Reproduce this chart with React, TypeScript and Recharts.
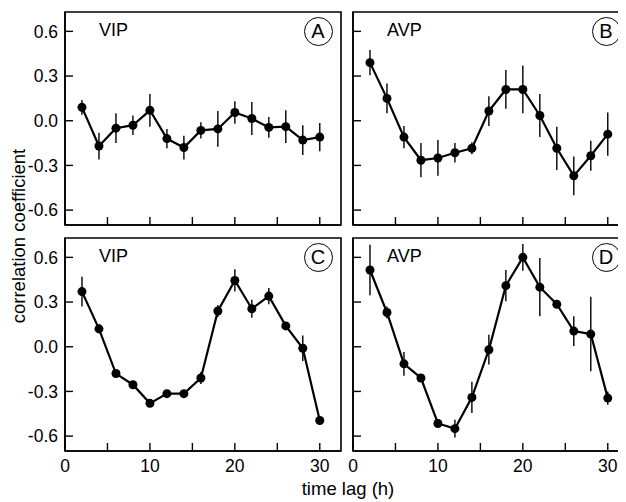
import React from "react";
import { LineChart, Line, XAxis, YAxis, ErrorBar, ReferenceArea } from "recharts";

const lags = [2, 4, 6, 8, 10, 12, 14, 16, 18, 20, 22, 24, 26, 28, 30];
const xTicks = [0, 5, 10, 15, 20, 25, 30];
const yTicks = [-0.6, -0.3, 0, 0.3, 0.6];

const vipTop = [0.09, -0.17, -0.05, -0.03, 0.07, -0.12, -0.18, -0.065, -0.055, 0.055, 0.015, -0.045, -0.04, -0.13, -0.11];
const vipTopErr = [0.05, 0.09, 0.1, 0.065, 0.11, 0.065, 0.08, 0.055, 0.12, 0.075, 0.11, 0.07, 0.11, 0.1, 0.095];
const avpTop = [0.39, 0.15, -0.11, -0.265, -0.25, -0.215, -0.185, 0.065, 0.21, 0.21, 0.035, -0.185, -0.37, -0.235, -0.09];
const avpTopErr = [0.085, 0.1, 0.075, 0.115, 0.12, 0.065, 0.04, 0.1, 0.13, 0.16, 0.145, 0.145, 0.13, 0.1, 0.145];
const vipBottom = [0.37, 0.12, -0.18, -0.255, -0.38, -0.315, -0.315, -0.21, 0.24, 0.445, 0.255, 0.34, 0.14, -0.01, -0.495];
const vipBottomErr = [0.1, 0.03, 0.02, 0.02, 0.02, 0.02, 0.02, 0.04, 0.04, 0.075, 0.06, 0.055, 0.02, 0.085, 0.02];
const avpBottom = [0.515, 0.23, -0.115, -0.21, -0.515, -0.55, -0.34, -0.02, 0.41, 0.6, 0.4, 0.285, 0.105, 0.085, -0.345];
const avpBottomErr = [0.17, 0.04, 0.08, 0.02, 0.02, 0.06, 0.105, 0.1, 0.105, 0.09, 0.195, 0.02, 0.1, 0.25, 0.045];

const FONT = "'Liberation Sans', Arial, Helvetica, sans-serif";
const X_DOMAIN: [number, number] = [0, 32.5];
const Y_DOMAIN: [number, number] = [-0.7, 0.73];
const PLOT_W = 276;
const PLOT_H = 213;
const Y_AXIS_W = 60;
const X_AXIS_H = 30;
const M_TOP = 2;
const M_RIGHT = 4;
// page offset (body margin)
const OFF = 8;

type PanelProps = {
  values: number[];
  errors: number[];
  left: number; // plot area left, page coords
  top: number; // plot area top, page coords
  name: string;
  letter: string;
  showXLabels: boolean;
  showYLabels: boolean;
};

function Panel({ values, errors, left, top, name, letter, showXLabels, showYLabels }: PanelProps) {
  const data = lags.map((lag, i) => ({ lag, r: values[i], err: errors[i] }));
  return (
    <>
      <div style={{ position: "absolute", left: left - OFF - Y_AXIS_W, top: top - OFF - M_TOP }}>
        <LineChart
          width={Y_AXIS_W + PLOT_W + M_RIGHT}
          height={M_TOP + PLOT_H + X_AXIS_H}
          data={data}
          margin={{ top: M_TOP, right: M_RIGHT, bottom: 0, left: 0 }}
        >
          <XAxis
            dataKey="lag"
            type="number"
            domain={X_DOMAIN}
            ticks={xTicks}
            allowDataOverflow
            height={X_AXIS_H}
            tickSize={-8}
            tickMargin={17}
            axisLine={{ stroke: "#000", strokeWidth: 1.6 }}
            tickLine={{ stroke: "#000", strokeWidth: 1.4 }}
            tick={{ fill: "#000", fontSize: 17.5, fontFamily: FONT }}
            tickFormatter={(v: number) => (showXLabels && v % 10 === 0 ? String(v) : "")}
          />
          <YAxis
            type="number"
            domain={Y_DOMAIN}
            ticks={yTicks}
            allowDataOverflow
            width={Y_AXIS_W}
            tickSize={-8}
            tickMargin={15}
            axisLine={{ stroke: "#000", strokeWidth: 1.6 }}
            tickLine={{ stroke: "#000", strokeWidth: 1.4 }}
            tick={{ fill: "#000", fontSize: 17.5, fontFamily: FONT }}
            tickFormatter={(v: number) => (showYLabels ? v.toFixed(1) : "")}
          />
          <ReferenceArea
            x1={X_DOMAIN[0]}
            x2={X_DOMAIN[1]}
            y1={Y_DOMAIN[0]}
            y2={Y_DOMAIN[1]}
            fill="none"
            stroke="#000"
            strokeWidth={1.6}
            ifOverflow="visible"
          />
          <Line
            dataKey="r"
            type="linear"
            stroke="#000"
            strokeWidth={2.2}
            dot={{ r: 4.5, fill: "#000", stroke: "#000", strokeWidth: 0 }}
            activeDot={false}
            isAnimationActive={false}
          >
            <ErrorBar dataKey="err" width={0} stroke="#000" strokeWidth={1.4} direction="y" />
          </Line>
        </LineChart>
      </div>
      <div
        style={{
          position: "absolute",
          left: left - OFF + 34,
          top: top - OFF + 9,
          fontSize: 18,
          lineHeight: 1,
          fontFamily: FONT,
          color: "#000",
        }}
      >
        {name}
      </div>
      <div
        style={{
          position: "absolute",
          left: left - OFF + 253 - 14.5,
          top: top - OFF + 19.5 - 14.5,
          width: 27,
          height: 27,
          border: "1.4px solid #000",
          borderRadius: "50%",
          display: "flex",
          alignItems: "center",
          justifyContent: "center",
          fontSize: 20,
          fontFamily: FONT,
          color: "#000",
        }}
      >
        {letter}
      </div>
    </>
  );
}

export default function App() {
  return (
    <div
      style={{
        position: "relative",
        width: 626 - OFF,
        height: 502 - OFF,
        overflow: "hidden",
        background: "#fff",
        fontFamily: FONT,
      }}
    >
      <Panel values={vipTop} errors={vipTopErr} left={65} top={12} name="VIP" letter="A" showXLabels={false} showYLabels />
      <Panel values={avpTop} errors={avpTopErr} left={353} top={12} name="AVP" letter="B" showXLabels={false} showYLabels={false} />
      <Panel values={vipBottom} errors={vipBottomErr} left={65} top={238} name="VIP" letter="C" showXLabels showYLabels />
      <Panel values={avpBottom} errors={avpBottomErr} left={353} top={238} name="AVP" letter="D" showXLabels showYLabels={false} />
      <div
        style={{
          position: "absolute",
          left: 19 - OFF,
          top: 236 - OFF,
          transform: "translate(-50%, -50%) rotate(-90deg)",
          whiteSpace: "nowrap",
          fontSize: 18.5,
          lineHeight: 1,
          color: "#000",
        }}
      >
        correlation coefficient
      </div>
      <div
        style={{
          position: "absolute",
          left: 348 - OFF,
          top: 489 - OFF,
          transform: "translate(-50%, -50%)",
          whiteSpace: "nowrap",
          fontSize: 18.5,
          lineHeight: 1,
          color: "#000",
        }}
      >
        time lag (h)
      </div>
    </div>
  );
}
